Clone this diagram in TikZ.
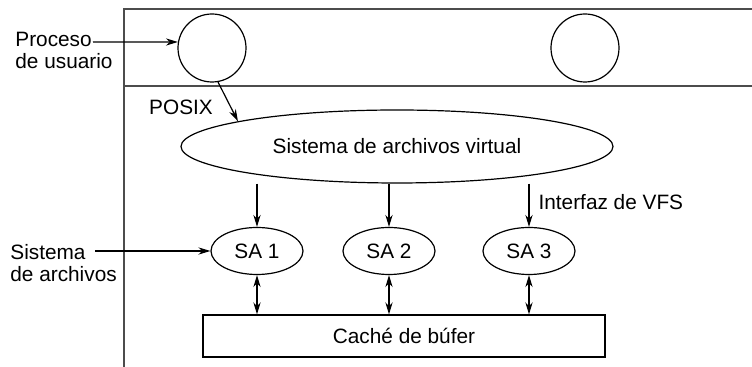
\documentclass[tikz,border=0pt]{standalone}
\usepackage{fontspec}
\setmainfont{Liberation Sans}
\usepackage{tikz}
\usetikzlibrary{positioning, arrows.meta, shapes.geometric}

\begin{document}
\begin{tikzpicture}[x=0.5pt,y=-0.5pt,font=\fontsize{10.4}{10.8}\selectfont,
    procnode/.style={draw,circle,minimum size=34pt,inner sep=0pt,line width=0.6pt},
    fsnode/.style={draw,ellipse,minimum width=46pt,minimum height=23.5pt,inner sep=0pt,line width=0.6pt},
    lbl/.style={inner sep=0pt,align=left},
    conn/.style={-{Stealth[length=6pt,width=3.6pt]},line width=0.6pt},
    twoway/.style={{Stealth[length=6pt,width=3.6pt]}-{Stealth[length=6pt,width=3.6pt]},line width=0.6pt}]
    \useasboundingbox (0,0) rectangle (752,367);

    % user space / kernel frame
    \draw[black!70,line width=1pt] (752,9) -- (124,9) -- (124,367);
    \draw[black!70,line width=1pt] (124,86) -- (752,86);

    \node[procnode] (p1) at (212,48) {};
    \node[procnode] (p2) at (585,48) {};
    \node[draw,ellipse,minimum width=216pt,minimum height=36.5pt,inner sep=0pt,line width=0.6pt]
      (vfs) at (397,146.5) {Sistema de archivos virtual};
    \node[fsnode] (sa1) at (257,251) {SA 1};
    \node[fsnode] (sa2) at (389,251) {SA 2};
    \node[fsnode] (sa3) at (529,251) {SA 3};
    \node[draw,minimum width=201pt,minimum height=21pt,inner sep=0pt,line width=0.6pt]
      (cache) at (404,336) {Caché de búfer};

    \node[lbl,anchor=north west] (proclbl) at (15,32) {Proceso\\de usuario};
    \node[lbl,anchor=north west] (fslbl) at (10,244) {Sistema\\de archivos};
    \node[inner sep=0pt] (posix) at (181,107.5) {POSIX};
    \coordinate (procend) at (93,42);
    \coordinate (fsend) at (95,251);

    \draw[conn] (procend) -- (p1.170);
    \draw[conn] (fsend) -- (sa1.west);
    \draw[conn] (p1.-80) -- (vfs.171);

    \draw[conn] (vfs.south -| sa1.north) -- (sa1.north);
    \draw[conn] (vfs.south -| sa2.north) -- (sa2.north);
    \draw[conn] (vfs.south -| sa3.north) -- (sa3.north)
      node[midway,right=4.5pt,inner sep=0pt,yshift=1.5pt] (vfsif) {Interfaz de VFS};

    \draw[twoway] (sa1.south) -- (cache.north -| sa1.south);
    \draw[twoway] (sa2.south) -- (cache.north -| sa2.south);
    \draw[twoway] (sa3.south) -- (cache.north -| sa3.south);
\end{tikzpicture}
\end{document}
